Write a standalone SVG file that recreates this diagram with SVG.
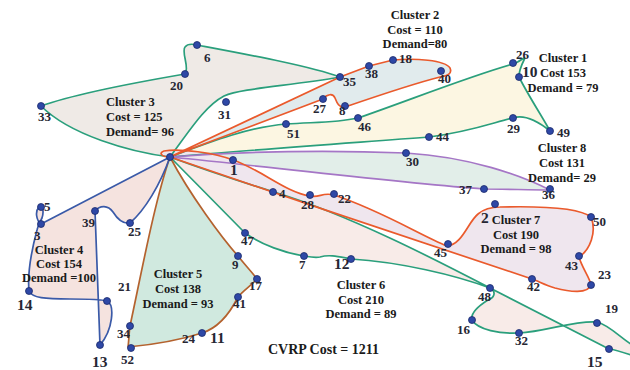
<svg xmlns="http://www.w3.org/2000/svg" xmlns:xlink="http://www.w3.org/1999/xlink" width="630" height="370" viewBox="0 0 630 370">
  <style>
    .route { fill: none; stroke-width: 1.7; stroke-linejoin: round; stroke-linecap: round; }
    .green { stroke: #2a9f7c; }
    .orange { stroke: #ea5a2c; }
    .purple { stroke: #a576c6; }
    .brown { stroke: #b4622e; }
    .blue { stroke: #3a5aa8; }
    .dot { fill: #2e48a6; stroke: #1b2a6b; stroke-width: 0.8; }
    .lbl { font-family: "Liberation Serif", "Times New Roman", serif; font-weight: bold; font-size: 13px; fill: #262633; }
    .big { font-size: 15.5px; }
    .cl { font-family: "Liberation Serif", "Times New Roman", serif; font-weight: bold; font-size: 12.5px; fill: #1a1a1a; text-anchor: middle; }
    .cl.left { text-anchor: start; }
    .total { font-family: "Liberation Serif", "Times New Roman", serif; font-weight: bold; font-size: 14px; fill: #1a1a1a; }
  </style>
  <defs>
    <!-- vehicle routes, each a closed tour from the depot -->
    <path id="r3" d="M170,157 C130,152 70,135 41,106 C80,92 150,80 185,74 C190,68 181,52 185,47 C188,43 193,44 197,45 C250,55 310,66 340,77 C290,86 242,88 224,96 C205,106 190,130 170,157 Z"/>
    <path id="r1" d="M170,157 C215,140 250,127 286,124 C315,122 335,123 358,118 C410,100 470,76 513,64 C520,62 527,54 524,60 C522,64 519,70 519,77 C528,95 543,118 550,131 C540,123 525,114 513,118 C495,122 470,132 429,137 C350,143 250,150 170,157 Z"/>
    <path id="r2" d="M172,156 L340,77 L369,66 L393,60 C415,58 445,60 450,68 C453,75 445,76 440,77 C420,82 380,95 345,107 C339,108 337,103 335,98 C333,93 327,94 323,99 L172,156 Z"/>
    <path id="r8" d="M170,157 C250,151 330,150 406,153 C470,157 520,175 550,190 C530,190 505,189 484,189 C400,183 300,170 170,157 Z"/>
    <path id="r6" d="M170,157 C205,170 245,183 274,192 C350,215 440,262 490,288 C497,292 494,298 488,300 C480,305 470,312 472,320 C478,330 500,334 519,333 C545,332 575,320 597,322 C610,325 622,340 640,350 L640,358 C630,355 618,350 609,349 L490,288 C455,275 400,262 351,259 C340,257 330,254 320,257 C315,258 310,257 304,256 C285,253 262,245 245,233 C225,213 195,182 170,157 Z"/>
    <path id="r7" d="M170,157 C162,157 158,153 164,151 C180,148 215,153 233,160 C262,170 285,192 310,196 C320,198 322,192 334,195 C380,210 420,235 447,246 C462,245 468,222 478,214 C485,208 492,207 500,207 C540,206 580,208 591,217 C597,232 590,250 579,257 C582,268 590,278 591,285 C588,294 570,292 555,288 C545,285 538,281 532,279 C450,252 280,195 170,157 Z"/>
    <path id="r5" d="M170,157 C190,195 222,238 238,256 C245,265 252,272 257,279 C252,285 244,290 238,297 C230,313 218,328 202,333 C180,340 150,345 128,347 C129,340 129,332 130,326 C142,270 155,200 170,157 Z"/>
    <path id="r4" d="M170,157 L41,224 C36,220 35,211 39,207 C43,204 44,212 42,218 C40,222 38,225 37,230 C33,245 27,270 29,291 C32,298 45,299 70,299 C90,299 100,299 107,301 C115,305 113,330 100,345 L95,211 C100,205 108,205 113,212 C118,220 124,224 130,223 C145,210 160,185 170,157 Z"/>
  </defs>

  <rect width="630" height="370" fill="#ffffff"/>

  <!-- shaded cluster areas -->
  <g id="cluster-areas" stroke="none">
    <use xlink:href="#r3" fill="#efeae6"/>
    <use xlink:href="#r1" fill="#fcf6e2"/>
    <use xlink:href="#r2" fill="#e1ebed"/>
    <use xlink:href="#r8" fill="#e2eee9"/>
    <use xlink:href="#r6" fill="#f8ebe8"/>
    <use xlink:href="#r7" fill="#efe6ee"/>
    <use xlink:href="#r5" fill="#d0e9df"/>
    <use xlink:href="#r4" fill="#f5e3df"/>
  </g>

  <!-- route lines -->
  <g id="connectors">
    <use xlink:href="#r3" class="route green"/>
    <use xlink:href="#r1" class="route green"/>
    <use xlink:href="#r8" class="route purple"/>
    <use xlink:href="#r6" class="route green"/>
    <use xlink:href="#r5" class="route brown"/>
    <use xlink:href="#r4" class="route blue"/>
    <use xlink:href="#r2" class="route orange"/>
    <use xlink:href="#r7" class="route orange"/>
  </g>

  <!-- depot and customers -->
  <g id="depot"><circle class="dot" cx="170" cy="157" r="3.5"/></g>
  <g id="n1"><circle class="dot" cx="233" cy="160" r="3.5"/><text class="lbl big" x="230" y="175">1</text></g>
  <g id="n2"><circle class="dot" cx="495" cy="204" r="3.5"/><text class="lbl big" x="481" y="223">2</text></g>
  <g id="n3"><circle class="dot" cx="41" cy="224" r="3.5"/><text class="lbl" x="34" y="240">3</text></g>
  <g id="n4"><circle class="dot" cx="273" cy="192" r="3.5"/><text class="lbl" x="279" y="198">4</text></g>
  <g id="n5"><circle class="dot" cx="41" cy="207" r="3.5"/><text class="lbl" x="44" y="211">5</text></g>
  <g id="n6"><circle class="dot" cx="197" cy="45" r="3.5"/><text class="lbl" x="204" y="62">6</text></g>
  <g id="n7"><circle class="dot" cx="304" cy="256" r="3.5"/><text class="lbl" x="299" y="269">7</text></g>
  <g id="n8"><circle class="dot" cx="345" cy="106" r="3.5"/><text class="lbl" x="339" y="115">8</text></g>
  <g id="n9"><circle class="dot" cx="238" cy="256" r="3.5"/><text class="lbl" x="232" y="269">9</text></g>
  <g id="n10"><circle class="dot" cx="519" cy="77" r="3.5"/><text class="lbl big" x="522" y="77">10</text></g>
  <g id="n11"><text class="lbl big" x="210" y="343">11</text></g>
  <g id="n12"><circle class="dot" cx="351" cy="259" r="3.5"/><text class="lbl big" x="334" y="269">12</text></g>
  <g id="n13"><circle class="dot" cx="100" cy="345" r="3.5"/><text class="lbl big" x="92" y="367">13</text></g>
  <g id="n14"><circle class="dot" cx="29" cy="291" r="3.5"/><text class="lbl big" x="17" y="310">14</text></g>
  <g id="n15"><circle class="dot" cx="609" cy="349" r="3.5"/><text class="lbl big" x="587" y="367">15</text></g>
  <g id="n16"><circle class="dot" cx="472" cy="320" r="3.5"/><text class="lbl" x="457" y="334">16</text></g>
  <g id="n17"><circle class="dot" cx="257" cy="279" r="3.5"/><text class="lbl" x="249" y="290">17</text></g>
  <g id="n18"><circle class="dot" cx="393" cy="60" r="3.5"/><text class="lbl" x="399" y="63">18</text></g>
  <g id="n19"><circle class="dot" cx="597" cy="323" r="3.5"/><text class="lbl" x="605" y="313">19</text></g>
  <g id="n20"><circle class="dot" cx="185" cy="74" r="3.5"/><text class="lbl" x="170" y="90">20</text></g>
  <g id="n21"><circle class="dot" cx="107" cy="301" r="3.5"/><text class="lbl" x="118" y="291">21</text></g>
  <g id="n22"><circle class="dot" cx="334" cy="194" r="3.5"/><text class="lbl" x="338" y="203">22</text></g>
  <g id="n23"><circle class="dot" cx="591" cy="285" r="3.5"/><text class="lbl" x="598" y="279">23</text></g>
  <g id="n24"><circle class="dot" cx="202" cy="333" r="3.5"/><text class="lbl" x="182" y="343">24</text></g>
  <g id="n25"><circle class="dot" cx="130" cy="223" r="3.5"/><text class="lbl" x="128" y="236">25</text></g>
  <g id="n26"><circle class="dot" cx="513" cy="63" r="3.5"/><text class="lbl" x="516" y="59">26</text></g>
  <g id="n27"><circle class="dot" cx="323" cy="99" r="3.5"/><text class="lbl" x="313" y="113">27</text></g>
  <g id="n28"><circle class="dot" cx="310" cy="195" r="3.5"/><text class="lbl" x="301" y="209">28</text></g>
  <g id="n29"><circle class="dot" cx="513" cy="118" r="3.5"/><text class="lbl" x="507" y="133">29</text></g>
  <g id="n30"><circle class="dot" cx="406" cy="153" r="3.5"/><text class="lbl" x="406" y="166">30</text></g>
  <g id="n31"><circle class="dot" cx="226" cy="102" r="3.5"/><text class="lbl" x="218" y="119">31</text></g>
  <g id="n32"><circle class="dot" cx="519" cy="333" r="3.5"/><text class="lbl" x="515" y="345">32</text></g>
  <g id="n33"><circle class="dot" cx="41" cy="106" r="3.5"/><text class="lbl" x="38" y="121">33</text></g>
  <g id="n34"><circle class="dot" cx="130" cy="326" r="3.5"/><text class="lbl" x="117" y="338">34</text></g>
  <g id="n35"><circle class="dot" cx="340" cy="77" r="3.5"/><text class="lbl" x="343" y="86">35</text></g>
  <g id="n36"><circle class="dot" cx="550" cy="189" r="3.5"/><text class="lbl" x="542" y="199">36</text></g>
  <g id="n37"><circle class="dot" cx="484" cy="189" r="3.5"/><text class="lbl" x="459" y="194">37</text></g>
  <g id="n38"><circle class="dot" cx="369" cy="66" r="3.5"/><text class="lbl" x="365" y="78">38</text></g>
  <g id="n39"><circle class="dot" cx="95" cy="211" r="3.5"/><text class="lbl" x="82" y="227">39</text></g>
  <g id="n40"><circle class="dot" cx="441" cy="71" r="3.5"/><text class="lbl" x="438" y="83">40</text></g>
  <g id="n41"><circle class="dot" cx="238" cy="297" r="3.5"/><text class="lbl" x="233" y="308">41</text></g>
  <g id="n42"><circle class="dot" cx="532" cy="279" r="3.5"/><text class="lbl" x="527" y="291">42</text></g>
  <g id="n43"><circle class="dot" cx="579" cy="256" r="3.5"/><text class="lbl" x="565" y="270">43</text></g>
  <g id="n44"><circle class="dot" cx="429" cy="137" r="3.5"/><text class="lbl" x="436" y="141">44</text></g>
  <g id="n45"><circle class="dot" cx="448" cy="244" r="3.5"/><text class="lbl" x="434" y="257">45</text></g>
  <g id="n46"><circle class="dot" cx="358" cy="118" r="3.5"/><text class="lbl" x="358" y="131">46</text></g>
  <g id="n47"><circle class="dot" cx="245" cy="233" r="3.5"/><text class="lbl" x="241" y="245">47</text></g>
  <g id="n48"><circle class="dot" cx="490" cy="288" r="3.5"/><text class="lbl" x="478" y="301">48</text></g>
  <g id="n49"><circle class="dot" cx="550" cy="131" r="3.5"/><text class="lbl" x="557" y="137">49</text></g>
  <g id="n50"><circle class="dot" cx="591" cy="217" r="3.5"/><text class="lbl" x="593" y="226">50</text></g>
  <g id="n51"><circle class="dot" cx="286" cy="124" r="3.5"/><text class="lbl" x="287" y="138">51</text></g>
  <g id="n52"><circle class="dot" cx="131" cy="348" r="3.5"/><text class="lbl" x="121" y="364">52</text></g>

  <!-- cluster summaries -->
  <g id="label-c1"><text class="cl" x="563" y="62">Cluster 1</text><text class="cl" x="563" y="77">Cost 153</text><text class="cl" x="563" y="92">Demand = 79</text></g>
  <g id="label-c2"><text class="cl" x="415" y="19">Cluster 2</text><text class="cl" x="415" y="34">Cost = 110</text><text class="cl" x="415" y="48">Demand=80</text></g>
  <g id="label-c3"><text class="cl left" x="106" y="106">Cluster 3</text><text class="cl left" x="106" y="121">Cost = 125</text><text class="cl left" x="106" y="136">Demand= 96</text></g>
  <g id="label-c4"><text class="cl" x="59" y="254">Cluster 4</text><text class="cl" x="59" y="268">Cost 154</text><text class="cl" x="59" y="282">Demand =100</text></g>
  <g id="label-c5"><text class="cl" x="178" y="278">Cluster 5</text><text class="cl" x="178" y="293">Cost 138</text><text class="cl" x="178" y="308">Demand = 93</text></g>
  <g id="label-c6"><text class="cl" x="361" y="289">Cluster 6</text><text class="cl" x="361" y="304">Cost 210</text><text class="cl" x="361" y="318">Demand = 89</text></g>
  <g id="label-c7"><text class="cl" x="516" y="224">Cluster 7</text><text class="cl" x="516" y="239">Cost 190</text><text class="cl" x="516" y="253">Demand = 98</text></g>
  <g id="label-c8"><text class="cl" x="562" y="152">Cluster 8</text><text class="cl" x="562" y="167">Cost 131</text><text class="cl" x="562" y="182">Demand= 29</text></g>
  <text id="total-cost" class="total" x="268" y="354">CVRP Cost = 1211</text>
</svg>
